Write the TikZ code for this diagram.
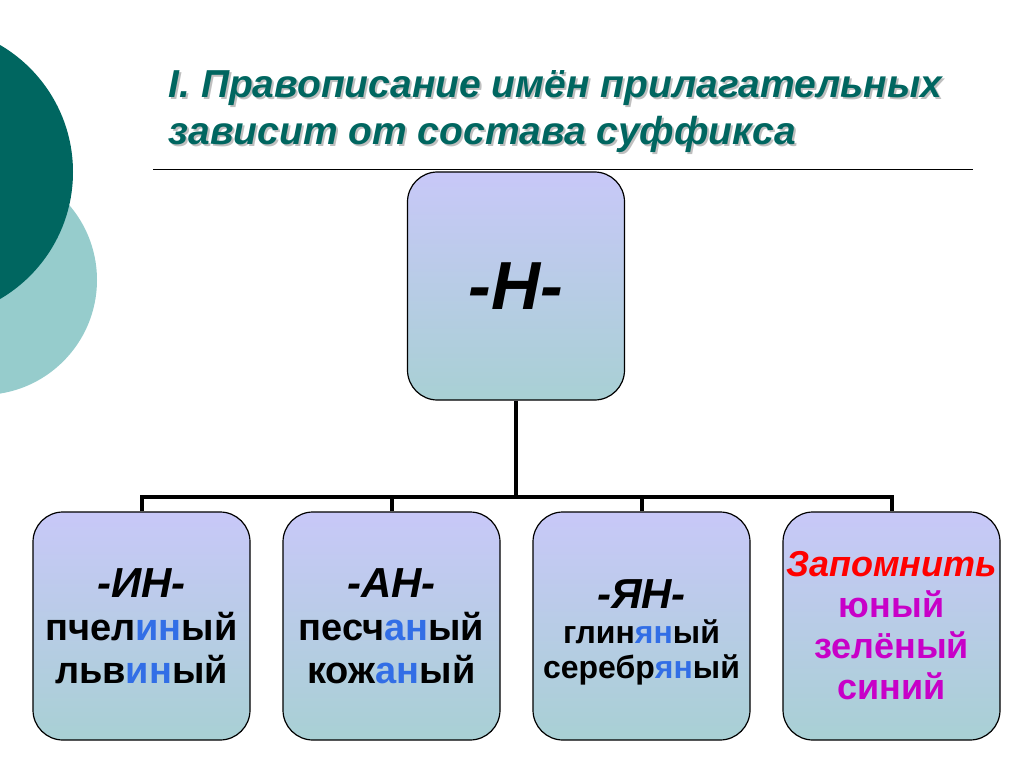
\documentclass[tikz,border=0pt]{standalone}
\usepackage{fontspec}
\setmainfont{Liberation Sans}
\definecolor{teal1}{RGB}{0,102,96}
\definecolor{teal2}{RGB}{150,204,204}
\definecolor{lav}{RGB}{200,200,248}
\definecolor{aqua}{RGB}{168,208,212}
\definecolor{hl}{RGB}{50,110,230}
\definecolor{purp}{RGB}{200,0,200}
\tikzset{
 box/.style={draw=black,line width=1.2pt,rounded corners=30pt,top color=lav,bottom color=aqua,minimum width=217pt,minimum height=228pt,align=center,inner sep=0pt},
 conn/.style={line width=4pt}
}
\newcommand{\hlt}[1]{\textcolor{hl}{#1}}
\newcommand{\hdr}[1]{{\fontsize{42}{43}\selectfont\itshape #1}}
\begin{document}
\begin{tikzpicture}[x=1pt,y=-1pt]
\useasboundingbox (0,0) rectangle (1024,767);
\begin{scope}
\clip (0,0) rectangle (1024,767);
\fill[teal2] (-18,280) circle (115);
\fill[teal1] (-74,172) circle (147);
\end{scope}
\node[anchor=west,text=black!25,font=\bfseries\itshape\fontsize{39}{47}\selectfont,align=left] at (167,114) {I. Правописание имён прилагательных\\зависит от состава суффикса};
\node[anchor=west,text=teal1,font=\bfseries\itshape\fontsize{39}{47}\selectfont,align=left] (title) at (165,112) {I. Правописание имён прилагательных\\зависит от состава суффикса};
\draw[line width=1pt] (153,170) -- (973,170);
\node[box,font=\bfseries\itshape\fontsize{68}{70}\selectfont] (top) at (516,286) {-Н-};
\node[box,font=\bfseries\fontsize{38}{43}\selectfont] (b1) at (141.5,626) {\hdr{-ИН-}\\пчел\hlt{ин}ый\\льв\hlt{ин}ый};
\node[box,font=\bfseries\fontsize{38}{43}\selectfont] (b2) at (391.5,626) {\hdr{-АН-}\\песч\hlt{ан}ый\\кож\hlt{ан}ый};
\node[box] (b3) at (641.5,626) {};
\node[align=center,font=\bfseries\fontsize{32}{35}\selectfont] (t3) at (641.5,632) {\hdr{-ЯН-}\\глин\hlt{ян}ый\\серебр\hlt{ян}ый};
\node[box,font=\bfseries\fontsize{36}{41}\selectfont] (b4) at (891.5,626) {\textcolor{red}{\itshape Запомнить}\\\textcolor{purp}{юный}\\\textcolor{purp}{зелёный}\\\textcolor{purp}{синий}};
\coordinate (j) at (516,497);
\draw[conn] (top.south) -- (j);
\draw[conn] (b1.north) |- (j) -| (b4.north);
\draw[conn] (b2.north) -- (b2.north |- j);
\draw[conn] (b3.north) -- (b3.north |- j);
\end{tikzpicture}
\end{document}
